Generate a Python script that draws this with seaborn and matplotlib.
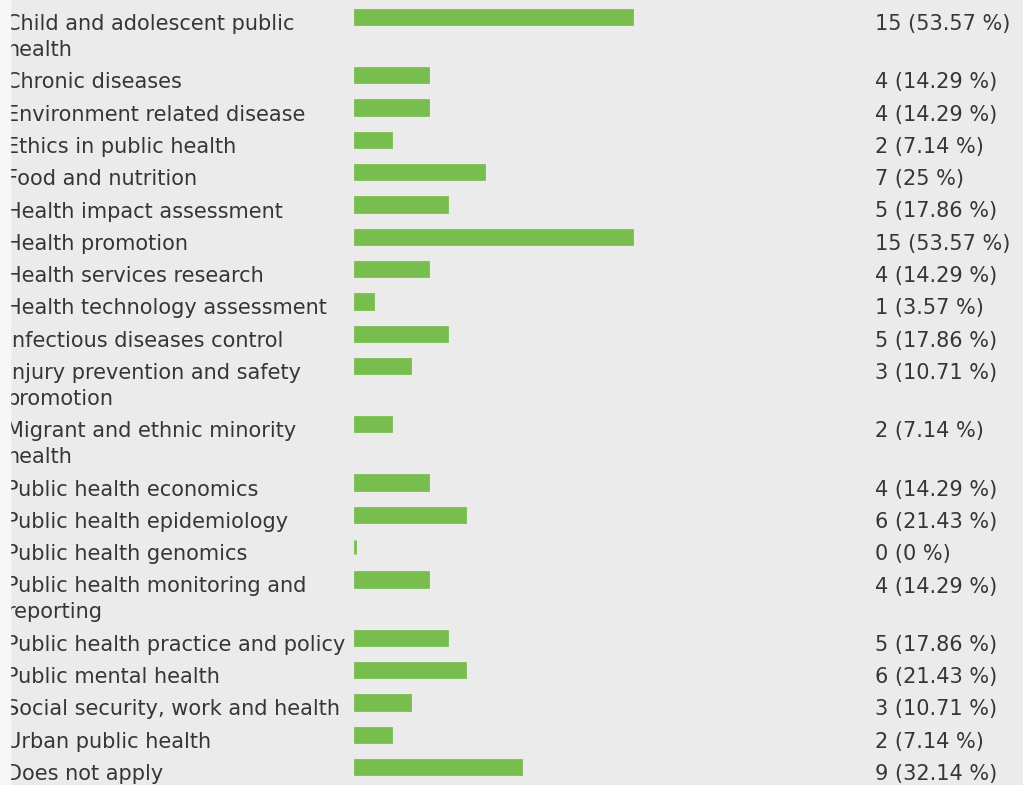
import matplotlib
matplotlib.use('Agg')
import matplotlib.pyplot as plt
from matplotlib.patches import Rectangle
import seaborn as sns
import pandas as pd

# Survey data: topic areas and number of answers (28 respondents)
topics = [
    'Child and adolescent public\nhealth',
    'Chronic diseases',
    'Environment related disease',
    'Ethics in public health',
    'Food and nutrition',
    'Health impact assessment',
    'Health promotion',
    'Health services research',
    'Health technology assessment',
    'Infectious diseases control',
    'Injury prevention and safety\npromotion',
    'Migrant and ethnic minority\nhealth',
    'Public health economics',
    'Public health epidemiology',
    'Public health genomics',
    'Public health monitoring and\nreporting',
    'Public health practice and policy',
    'Public mental health',
    'Social security, work and health',
    'Urban public health',
    'Does not apply',
]
counts = [15, 4, 4, 2, 7, 5, 15, 4, 1, 5, 3, 2, 4, 6, 0, 4, 5, 6, 3, 2, 9]
total = 28

# Layout (pixels)
W, H = 1023, 785
row_h = 32.3
extra_line = 26
first_y = 17
bar_h = 14.3
px_per_unit = 18.47
bar_x0 = 354.5
label_x = 6
value_x = 875
fsize = 15.0
green = '#78be4e'
bg = '#ebebeb'
txt = '#363636'

# y position of every row, from the number of lines in its label
ypos = []
y = first_y
for t in topics:
    ypos.append(y)
    y += row_h + extra_line * t.count('\n')

df = pd.DataFrame({'topic': topics, 'count': counts, 'y': ypos})

plt.rcParams['font.family'] = ['DejaVu Sans']

fig = plt.figure(figsize=(W / 100, H / 100), dpi=100, facecolor=bg)
ax = fig.add_axes([0, 0, 1, 1])
ax.set_facecolor(bg)

sns.barplot(data=df, x='count', y='y', orient='h', native_scale=True,
            width=bar_h / row_h, color=green, saturation=1,
            edgecolor=green, linewidth=2, ax=ax)

ax.set_xlim(-bar_x0 / px_per_unit, (W - bar_x0) / px_per_unit)
ax.set_ylim(H, 0)
ax.axis('off')


def px2x(px):
    return (px - bar_x0) / px_per_unit


for t, c, yy in zip(topics, counts, ypos):
    for i, line in enumerate(t.split('\n')):
        ax.text(px2x(label_x), yy + 13 + i * extra_line, line, fontsize=fsize,
                color=txt, ha='left', va='baseline')
    pct = round(100 * c / total, 2)
    ax.text(px2x(value_x), yy + 13, f'{c} ({pct:g} %)', fontsize=fsize,
            color=txt, ha='left', va='baseline')

# light strip at the left edge
fig.add_artist(Rectangle((0, 0), 10 / W, 1, transform=fig.transFigure,
                         color='#f7f7f7', zorder=10))

fig.savefig('out.png', dpi=100, facecolor=bg)
